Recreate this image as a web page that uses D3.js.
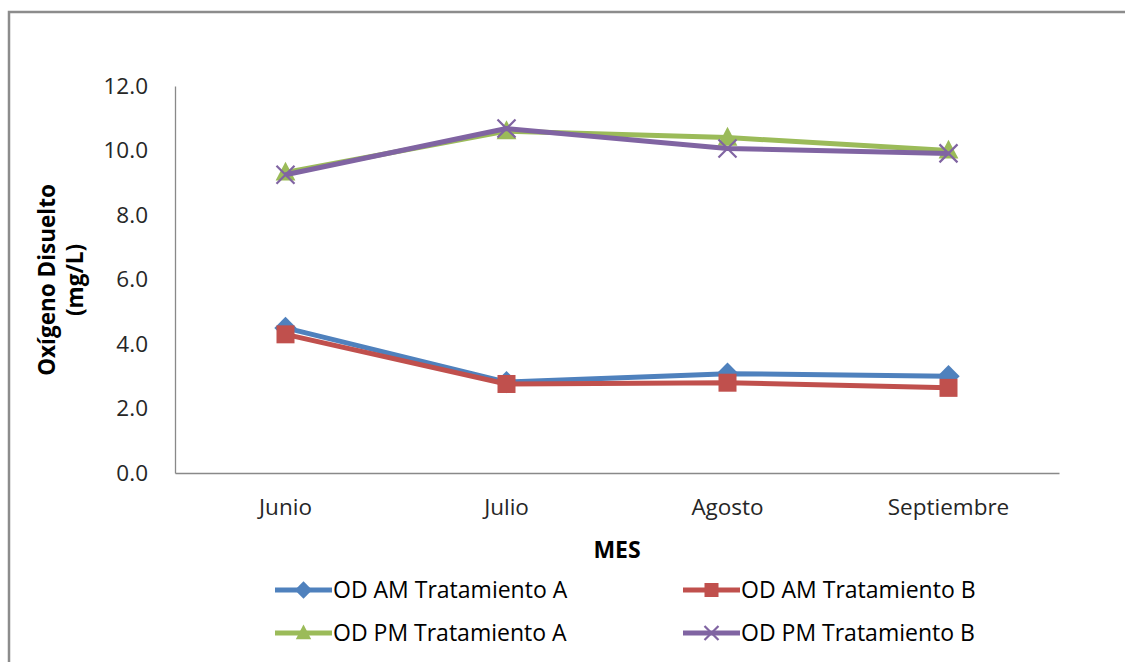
<!DOCTYPE html>
<html>
<head>
<meta charset="utf-8">
<script src="https://cdn.jsdelivr.net/npm/d3@7"></script>
<style>
  html, body { margin: 0; padding: 0; background: #fff; }
  svg { display: block; font-family: "Open Sans", "Liberation Sans", sans-serif; }
</style>
</head>
<body>
<svg id="chart" width="1125" height="662"></svg>
<script>
// Meses de muestreo
const months = ["Junio", "Julio", "Agosto", "Septiembre"];

// Oxígeno disuelto (mg/L) por serie
const odAmA = [4.5, 2.82, 3.08, 3.0];
const odAmB = [4.3, 2.76, 2.8, 2.64];
const odPmA = [9.32, 10.6, 10.4, 10.0];
const odPmB = [9.25, 10.68, 10.06, 9.91];

const yTicks = [0, 2, 4, 6, 8, 10, 12];

const seriesNames = ["OD AM Tratamiento A", "OD AM Tratamiento B", "OD PM Tratamiento A", "OD PM Tratamiento B"];
const seriesColors = ["#4F81BD", "#C0504D", "#9BBB59", "#8064A2"];
const seriesMarkers = ["diamond", "square", "triangle", "cross"];

const series = [odAmA, odAmB, odPmA, odPmB].map((v, i) => ({
  name: seriesNames[i], values: v, color: seriesColors[i], marker: seriesMarkers[i]
}));

const svg = d3.select("#chart");

// Marco exterior
svg.append("rect")
  .attr("x", 9).attr("y", 12).attr("width", 1130).attr("height", 670)
  .attr("fill", "none").attr("stroke", "#8c8c8c").attr("stroke-width", 2.5);

const plot = { left: 175, right: 1059, top: 86, bottom: 473 };

const x = d3.scaleBand().domain(months).range([plot.left, plot.right]);
const y = d3.scaleLinear().domain([0, 12]).range([plot.bottom, plot.top]);

// Eje Y
const yAxis = svg.append("g")
  .attr("transform", `translate(${plot.left},0)`)
  .call(d3.axisLeft(y).tickValues(yTicks).tickFormat(d3.format(".1f")).tickSize(0).tickPadding(27));
yAxis.select(".domain").attr("stroke", "#898989").attr("stroke-width", 1.3);
yAxis.selectAll("text").attr("font-size", 22.5).attr("fill", "#262626")
  .attr("font-family", "'Open Sans', sans-serif");

// Eje X
const xAxis = svg.append("g")
  .attr("transform", `translate(0,${plot.bottom})`)
  .call(d3.axisBottom(x).tickSize(0).tickPadding(26));
xAxis.select(".domain").attr("stroke", "#898989").attr("stroke-width", 1.3);
xAxis.selectAll("text").attr("font-size", 22.5).attr("fill", "#262626")
  .attr("font-family", "'Open Sans', sans-serif");

// Títulos de ejes
svg.append("text")
  .attr("x", 617).attr("y", 558)
  .attr("text-anchor", "middle")
  .attr("font-size", 23).attr("font-weight", "bold").attr("fill", "#000")
  .text("MES");

const yTitle = svg.append("text")
  .attr("transform", "translate(55,280) rotate(-90)")
  .attr("text-anchor", "middle")
  .attr("font-size", 22.5).attr("font-weight", "bold").attr("fill", "#000");
yTitle.append("tspan").attr("x", 0).attr("dy", 0).text("Oxígeno Disuelto");
yTitle.append("tspan").attr("x", 0).attr("dy", 28).text("(mg/L)");

// Marcadores
function drawMarker(g, type, cx, cy, color, s) {
  if (type === "diamond") {
    g.append("path")
      .attr("d", `M${cx},${cy - s * 0.62}L${cx + s * 0.62},${cy}L${cx},${cy + s * 0.62}L${cx - s * 0.62},${cy}Z`)
      .attr("fill", color);
  } else if (type === "square") {
    g.append("rect")
      .attr("x", cx - s / 2).attr("y", cy - s / 2)
      .attr("width", s).attr("height", s)
      .attr("fill", color);
  } else if (type === "triangle") {
    g.append("path")
      .attr("d", `M${cx},${cy - s * 0.6}L${cx + s * 0.55},${cy + s * 0.45}L${cx - s * 0.55},${cy + s * 0.45}Z`)
      .attr("fill", color);
  } else {
    const h = s * 0.5;
    g.append("path")
      .attr("d", `M${cx - h},${cy - h}L${cx + h},${cy + h}M${cx - h},${cy + h}L${cx + h},${cy - h}`)
      .attr("stroke", color).attr("stroke-width", 2.2).attr("fill", "none");
  }
}

const line = d3.line()
  .x((d, i) => x(months[i]) + x.bandwidth() / 2)
  .y(d => y(d));

series.forEach(s => {
  const g = svg.append("g");
  g.append("path")
    .datum(s.values)
    .attr("d", line)
    .attr("fill", "none")
    .attr("stroke", s.color)
    .attr("stroke-width", 5)
    .attr("stroke-linejoin", "round");
  s.values.forEach((v, i) => {
    drawMarker(g, s.marker, x(months[i]) + x.bandwidth() / 2, y(v), s.color, 18);
  });
});

// Leyenda
const legendPos = [[275, 590], [683, 590], [275, 633], [683, 633]];
series.forEach((s, i) => {
  const [lx, ly] = legendPos[i];
  const g = svg.append("g");
  g.append("line")
    .attr("x1", lx).attr("x2", lx + 57).attr("y1", ly).attr("y2", ly)
    .attr("stroke", s.color).attr("stroke-width", 5);
  drawMarker(g, s.marker, lx + 28.5, ly, s.color, 14);
  g.append("text")
    .attr("x", lx + 58).attr("y", ly + 8)
    .attr("font-size", 23).attr("fill", "#000")
    .text(s.name);
});
</script>
</body>
</html>
